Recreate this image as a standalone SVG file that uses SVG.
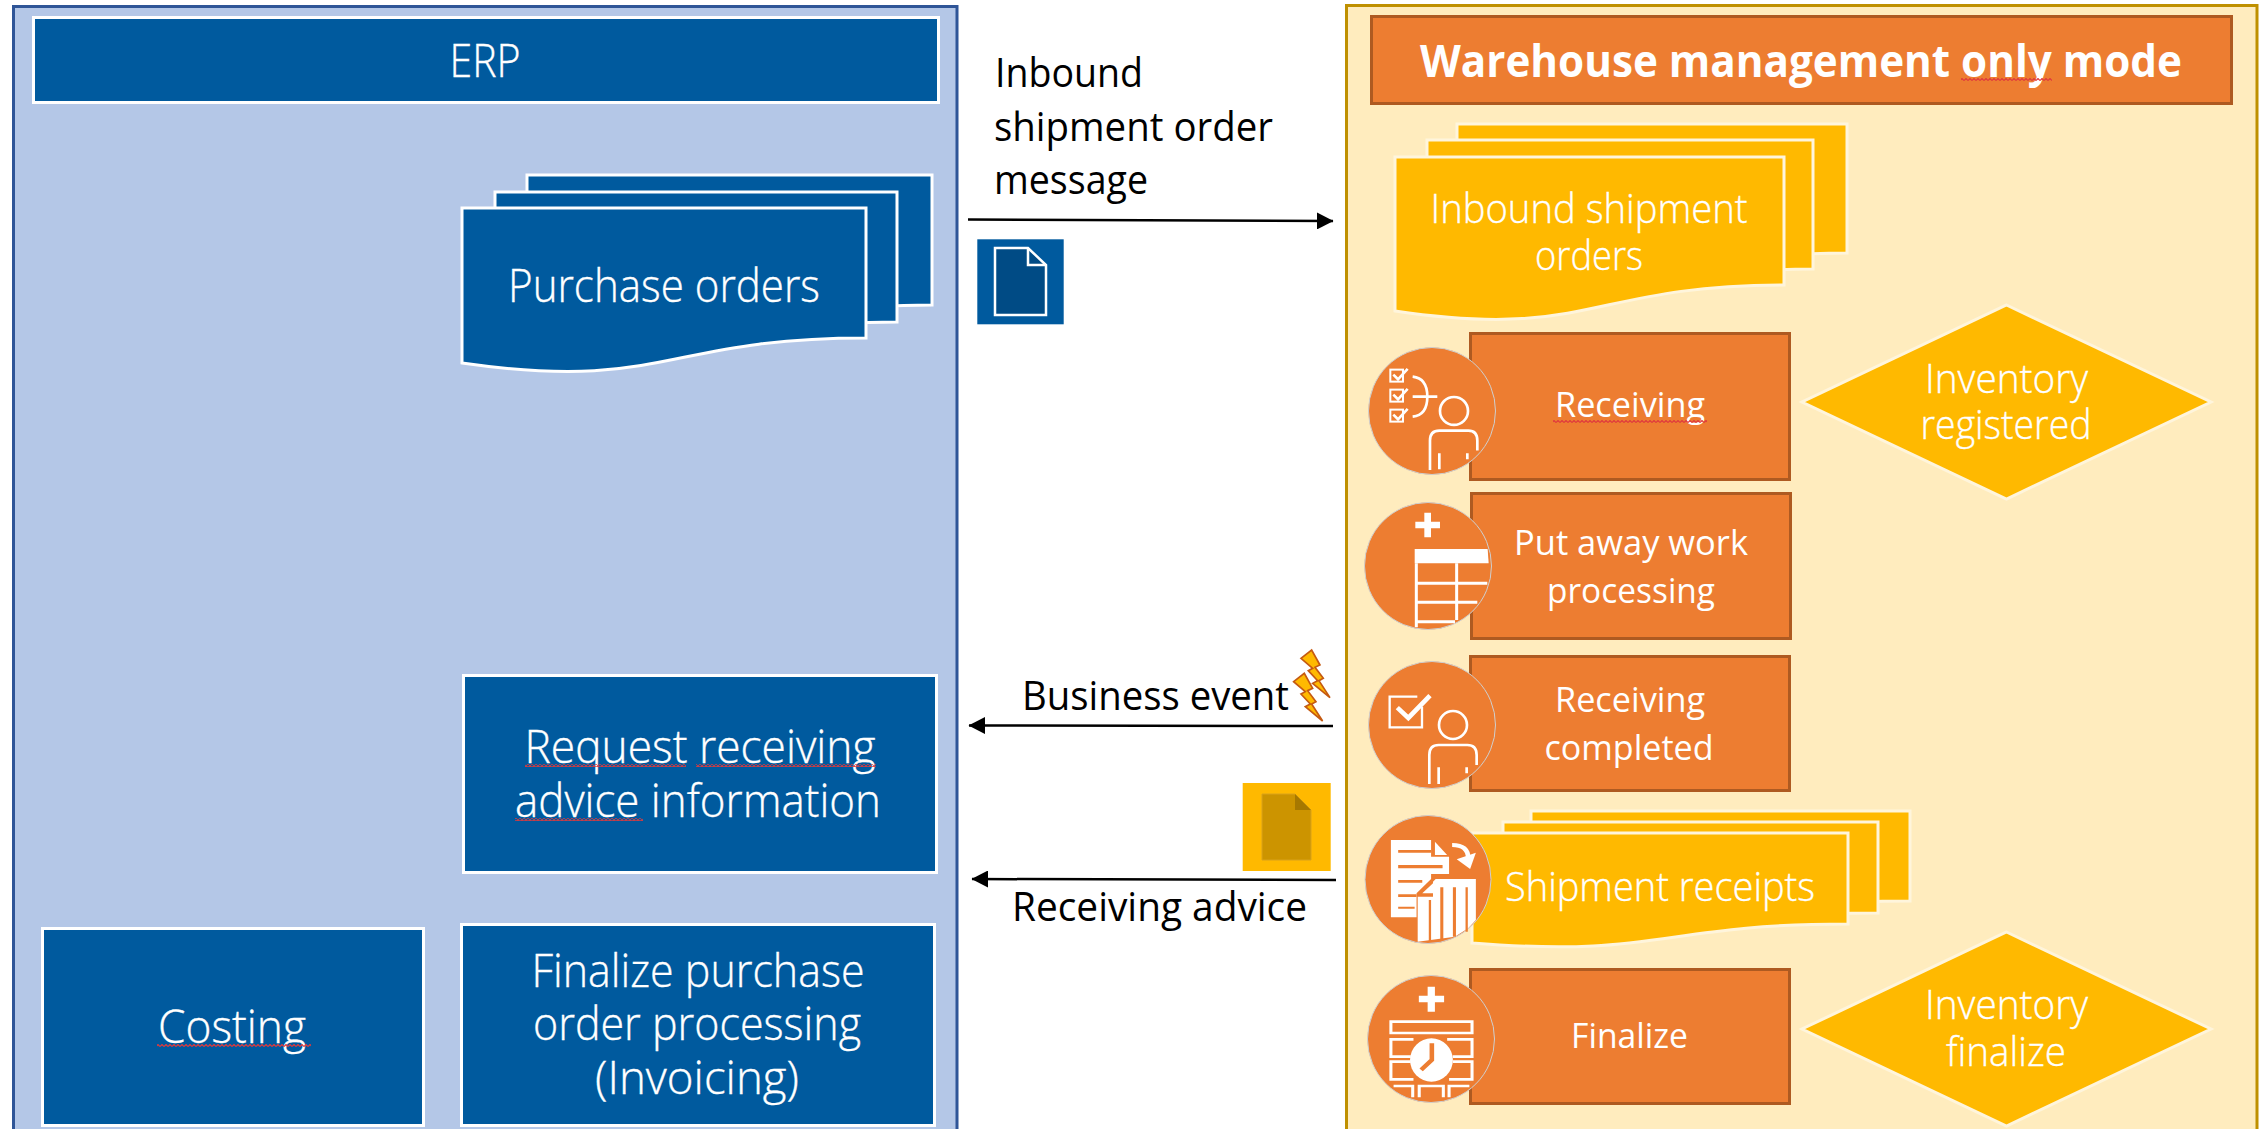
<svg xmlns="http://www.w3.org/2000/svg" width="2265" height="1129" viewBox="0 0 2265 1129">
<style>
text{font-family:"Open Sans","Noto Sans","Liberation Sans",sans-serif;text-anchor:middle;fill:#fff;font-weight:300;stroke:#fff;stroke-width:.35}
.k{fill:#000;stroke:none;font-weight:400;font-size:40px;text-anchor:start}
.l{font-size:46px}.m{font-size:40px}.s{font-size:34px;font-weight:400;stroke:none}
.b{font-size:44px;font-weight:700;stroke:none}
.blue{fill:#005A9E;stroke:#fff;stroke-width:3}
.gold{fill:#FFB900;stroke:#FFF5DC;stroke-width:3}
.or{fill:#ED7D31;stroke:#AE5A21;stroke-width:3}
.disc{fill:#ED7D31;stroke:#CFCFCF;stroke-width:1}
.ic{fill:none;stroke:#fff;stroke-width:7}
.icf{fill:#fff}
.wire{fill:none;stroke:#000;stroke-width:2.5;marker-end:url(#ah)}
.bolt{fill:#FFB900;stroke:#C55A11;stroke-width:5}
</style>
<defs>
<marker id="ah" markerUnits="userSpaceOnUse" markerWidth="17" markerHeight="17" refX="16" refY="8.5" orient="auto"><path d="M0 0L16.500 8.500L0 17Z" fill="#000"/></marker>
<pattern id="sq" patternUnits="userSpaceOnUse" width="4" height="3"><path d="M0 2.500L2 .5L4 2.500" fill="none" stroke="#E0393C" stroke-width="1.200"/></pattern>
<path id="bolt" d="M1083 85L1115 60L1140 105L1125 112L1150 145L1137 152L1170 203L1118 160L1133 152L1105 122L1118 115Z"/>
</defs>

<g id="erp-panel">
<path d="M13.500 1129V6.500H957V1129" fill="#B4C7E7" stroke="#2F5597" stroke-width="3"/>
</g>
<g id="wms-panel">
<path d="M1346.500 1129V5.500H2257V1129" fill="#FFECBE" stroke="#BF9000" stroke-width="3"/>
</g>

<g id="erp-header">
<rect class="blue" x="33.500" y="17.500" width="905" height="85"/>
<text class="l" x="485" y="77" textLength="71" lengthAdjust="spacingAndGlyphs">ERP</text>
</g>

<g id="purchase-orders">
<path class="blue" d="M527 175H932V305C730 305 730 359 527 330Z"/>
<path class="blue" d="M495 192H897V322C696 322 696 376 495 347Z"/>
<path class="blue" d="M462 208H866V338C664 338 664 392 462 363Z"/>
<text class="l" x="664" y="302" textLength="312" lengthAdjust="spacingAndGlyphs">Purchase orders</text>
</g>

<g id="request-advice">
<rect class="blue" x="463.500" y="675.500" width="473" height="197"/>
<text class="l" x="700" y="763" textLength="351" lengthAdjust="spacingAndGlyphs">Request receiving</text>
<text class="l" x="698" y="817" textLength="366" lengthAdjust="spacingAndGlyphs">advice information</text>
<rect x="525" y="764" width="161" height="3" fill="url(#sq)"/>
<rect x="696" y="764" width="180" height="3" fill="url(#sq)"/>
<rect x="515" y="818" width="128" height="3" fill="url(#sq)"/>
</g>

<g id="costing">
<rect class="blue" x="42.500" y="928.500" width="381" height="197"/>
<text class="l" x="232" y="1043" textLength="148" lengthAdjust="spacingAndGlyphs">Costing</text>
<rect x="157" y="1044" width="154" height="3" fill="url(#sq)"/>
</g>

<g id="finalize-po">
<rect class="blue" x="461.500" y="924.500" width="473" height="201"/>
<text class="l" x="698" y="987" textLength="333" lengthAdjust="spacingAndGlyphs">Finalize purchase</text>
<text class="l" x="697" y="1040" textLength="328" lengthAdjust="spacingAndGlyphs">order processing</text>
<text class="l" x="697" y="1094" textLength="204" lengthAdjust="spacingAndGlyphs">(Invoicing)</text>
</g>

<g id="connectors">
<path class="wire" d="M968 219.500L1333 221"/>
<path class="wire" d="M1333 726L969 725.500"/>
<path class="wire" d="M1336 880L972 879"/>
</g>

<g id="inbound-label">
<text class="k" x="995" y="87" textLength="148" lengthAdjust="spacingAndGlyphs">Inbound</text>
<text class="k" x="994" y="141" textLength="279" lengthAdjust="spacingAndGlyphs">shipment order</text>
<text class="k" x="994" y="194" textLength="154" lengthAdjust="spacingAndGlyphs">message</text>
</g>

<g id="message-icon">
<rect x="977.300" y="239.300" width="86.400" height="85" fill="#005A9E"/>
<path d="M995 248H1028L1046 265V315H995Z" fill="#004B85" stroke="#fff" stroke-width="2.500"/>
<path d="M1028 248V265H1046" fill="none" stroke="#fff" stroke-width="2.500"/>
</g>

<g id="business-event">
<text class="k" x="1022" y="710" textLength="267" lengthAdjust="spacingAndGlyphs">Business event</text>
<g transform="translate(940 630) scale(.3333)">
<use href="#bolt" class="bolt"/>
<use href="#bolt" class="bolt" x="-22" y="70"/>
</g>
</g>

<g id="receiving-advice">
<rect x="1242.700" y="783" width="88" height="88" fill="#FFB900"/>
<path d="M1262 794H1295L1311 810V860H1262Z" fill="#CC9400" stroke="#D9A21A" stroke-width="1"/>
<path d="M1295 794V810H1311Z" fill="#A67800"/>
<text class="k" x="1012" y="921" textLength="295" lengthAdjust="spacingAndGlyphs">Receiving advice</text>
</g>

<g id="wms-header">
<rect class="or" x="1371.500" y="16.500" width="860" height="87"/>
<text class="b" x="1801" y="77" textLength="762" lengthAdjust="spacingAndGlyphs">Warehouse management only mode</text>
<rect x="1961" y="78" width="91" height="3" fill="url(#sq)"/>
</g>

<g id="inbound-orders">
<path class="gold" d="M1457 124H1847V253C1652 253 1652 308 1457 279Z"/>
<path class="gold" d="M1427 140H1813V269C1620 269 1620 324 1427 295Z"/>
<path class="gold" d="M1395 157H1784V285C1590 285 1590 340 1395 311Z"/>
<text class="m" x="1589" y="223" textLength="317" lengthAdjust="spacingAndGlyphs">Inbound shipment</text>
<text class="m" x="1589" y="270" textLength="108" lengthAdjust="spacingAndGlyphs">orders</text>
</g>

<g id="receiving">
<rect class="or" x="1470.500" y="333.500" width="319" height="146"/>
<text class="s" x="1630" y="417" textLength="150" lengthAdjust="spacingAndGlyphs">Receiving</text>
<rect x="1553" y="420" width="154" height="3" fill="url(#sq)"/>
<circle class="disc" cx="1432" cy="411" r="63.500"/>
<g transform="translate(1340 0) scale(.3333)">
<g class="ic" style="stroke-width:6">
<rect x="151" y="1109" width="38" height="36"/><rect x="151" y="1169" width="38" height="36"/><rect x="151" y="1229" width="38" height="36"/>
<path d="M160 1124L174 1138L203 1107M160 1184L174 1198L203 1167M160 1244L174 1258L203 1227" style="stroke-width:8"/>
</g>
<g class="ic" style="stroke-width:8">
<path d="M218 1130Q262 1135 262 1190Q262 1245 218 1250M218 1190H292"/>
<circle cx="342" cy="1233" r="42"/>
<path d="M270 1410V1322Q270 1292 298 1292H385Q412 1292 412 1322V1352M298 1360V1408M382 1360V1378"/>
</g>
</g>
</g>

<g id="inventory-registered">
<path class="gold" d="M2006.500 305L2211 402L2006.500 499L1802 402Z"/>
<text class="m" x="2006.500" y="393" textLength="163" lengthAdjust="spacingAndGlyphs">Inventory</text>
<text class="m" x="2006" y="439" textLength="171" lengthAdjust="spacingAndGlyphs">registered</text>
</g>

<g id="put-away">
<rect class="or" x="1471.500" y="493.500" width="319" height="145"/>
<text class="s" x="1631" y="555" textLength="234" lengthAdjust="spacingAndGlyphs">Put away work</text>
<text class="s" x="1631" y="603" textLength="168" lengthAdjust="spacingAndGlyphs">processing</text>
<circle class="disc" cx="1428" cy="566" r="63.500"/>
<g transform="translate(1340 480) scale(.3333)">
<path class="icf" d="M253 98H273V125H300V145H273V172H253V145H226V125H253Z"/>
<path class="icf" d="M224 207H443L446 250H224Z"/>
<path class="ic" style="stroke-width:9" d="M229 250V442M350 250V420M229 310H442M229 367H412M229 425H345"/>
</g>
</g>

<g id="receiving-completed">
<rect class="or" x="1470.500" y="656.500" width="319" height="134"/>
<text class="s" x="1630" y="712" textLength="150" lengthAdjust="spacingAndGlyphs">Receiving</text>
<text class="s" x="1629" y="760" textLength="169" lengthAdjust="spacingAndGlyphs">completed</text>
<circle class="disc" cx="1432" cy="725" r="63.500"/>
<g transform="translate(1340 480) scale(.3333)">
<path class="ic" style="stroke-width:7" d="M246 680V742H149V650H232"/>
<path class="ic" style="stroke-width:14" d="M172 683L205 714L270 647"/>
<g class="ic" style="stroke-width:8">
<circle cx="339" cy="735" r="42"/>
<path d="M268 912V825Q268 795 296 795H382Q410 795 410 825V855M296 862V912M380 862V880"/>
</g>
</g>
</g>

<g id="shipment-receipts">
<path class="gold" d="M1531 811H1910V901C1720 901 1720 938 1531 920Z"/>
<path class="gold" d="M1503 822H1878V913C1690 913 1690 950 1503 932Z"/>
<path class="gold" d="M1472 833H1848V924C1660 924 1660 958 1472 943Z"/>
<text class="m" x="1660" y="901" textLength="310" lengthAdjust="spacingAndGlyphs">Shipment receipts</text>
<ellipse class="disc" cx="1428" cy="879.500" rx="63" ry="64"/>
<g transform="translate(1340 800) scale(.3827 .3333)">
<path class="icf" d="M133 120H238V170H285V222H238V237L200 280V352H133Z"/>
<path d="M152 150H238V158H152ZM152 195H268V205H152ZM152 240H215V248H152ZM152 283H200V291H152ZM152 320H195V326H152Z" fill="#ED7D31"/>
<path class="icf" d="M248 125L280 165H248Z"/>
<path class="icf" d="M250 237H355V360L335 385L300 410L203 425V290H243V245Z"/>
<path d="M232 300H238V425H232ZM262 262H270V420H262ZM295 262H303V410H295ZM328 262H334V395H328Z" fill="#ED7D31"/>
<path d="M243 245V280H210Z" fill="#ED7D31"/>
<path class="icf" d="M243 250V280H215Z"/>
<path d="M293 135Q335 135 335 175" fill="none" stroke="#fff" stroke-width="12"/>
<path class="icf" d="M305 178L355 158L340 207Z"/>
</g>
</g>

<g id="finalize">
<rect class="or" x="1470.500" y="969.500" width="319" height="134"/>
<text class="s" x="1629.500" y="1048" textLength="117" lengthAdjust="spacingAndGlyphs">Finalize</text>
<circle class="disc" cx="1431" cy="1039" r="63.500"/>
<g transform="translate(1340 800) scale(.3827 .3333)">
<path class="icf" d="M229 560H248V587H272V607H248V635H229V607H206V587H229Z"/>
<path class="ic" style="stroke-width:8" d="M133 665H345V699H133ZM192 718H133V770H185M280 718H345V770H295M185 785H133V838H192M295 785H345V838H285M140 858H190V892M207 892V858H270V892M285 892V858H338"/>
<ellipse class="icf" cx="239" cy="780" rx="56" ry="65"/>
<path d="M240 730V780L212 810" fill="none" stroke="#ED7D31" stroke-width="12"/>
</g>
</g>

<g id="inventory-finalize">
<path class="gold" d="M2006.500 932L2211 1029L2006.500 1126L1802 1029Z"/>
<text class="m" x="2006.500" y="1019" textLength="163" lengthAdjust="spacingAndGlyphs">Inventory</text>
<text class="m" x="2006" y="1066" textLength="120" lengthAdjust="spacingAndGlyphs">finalize</text>
</g>
</svg>
